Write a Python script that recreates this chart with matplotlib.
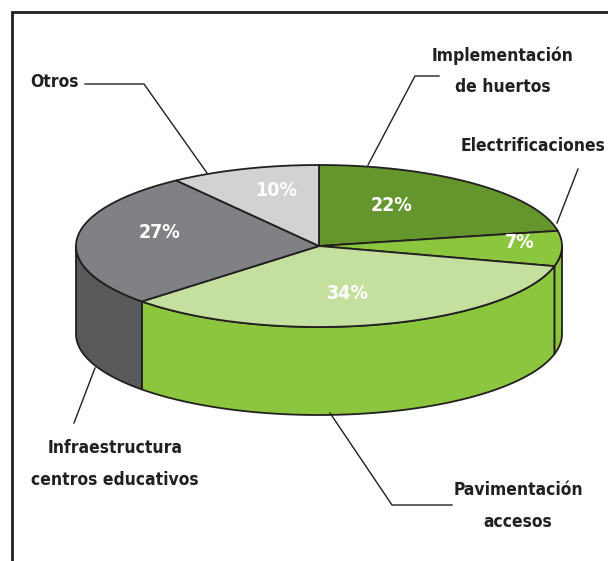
import numpy as np
import matplotlib
matplotlib.use("Agg")
import matplotlib.pyplot as plt
from matplotlib.patches import Polygon
from matplotlib import font_manager

# Project categories, clockwise from 12 o'clock
categories = ["Implementación\nde huertos", "Electrificaciones", "Pavimentación\naccesos",
              "Infraestructura\ncentros educativos", "Otros"]
values = [22, 7, 34, 27, 10]
pct_labels = ["22%", "7%", "34%", "27%", "10%"]

top_colors = ["#65962e", "#8cc63f", "#c5df9f", "#808184", "#d1d2d4"]
side_colors = ["#4f7a22", "#8cc63f", "#8cc63f", "#58595b", "#a7a9ac"]
edge = "#231f20"


def pick_narrow_bold():
    """Return a FontProperties for the narrowest bold sans face installed."""
    best = None
    for f in font_manager.fontManager.ttflist:
        nm = f.name.lower()
        st = str(f.stretch).lower()
        narrow = ("narrow" in nm or "condensed" in nm or "condensed" in st
                  or "narrow" in st)
        if not narrow or "mono" in nm or ("serif" in nm and "sans" not in nm):
            continue
        w = f.weight if isinstance(f.weight, int) else (700 if "bold" in str(f.weight) else 400)
        score = -abs(w - 700)
        if "italic" in str(f.style).lower() or "oblique" in str(f.style).lower():
            score -= 1000
        if best is None or score > best[0]:
            best = (score, f.fname)
    if best is not None:
        return font_manager.FontProperties(fname=best[1])
    return font_manager.FontProperties(family="DejaVu Sans", weight="bold")


base_font = pick_narrow_bold()

W, H = 608, 561
fig = plt.figure(figsize=(W / 100, H / 100), dpi=100)
ax = fig.add_axes([0, 0, 1, 1])
ax.set_xlim(0, W)
ax.set_ylim(H, 0)
ax.axis("off")
renderer = fig.canvas.get_renderer()


def fitted_size(sample, width_px, ref=20.0):
    fp = base_font.copy()
    fp.set_size(ref)
    t = ax.text(0, 0, sample, fontproperties=fp)
    w = t.get_window_extent(renderer).width
    t.remove()
    return ref * width_px / w


label_size = min(fitted_size("Electrificaciones", 145), 20)
pct_size = min(fitted_size("22%", 42), 24)
# distance between the two lines of a label, in pixels
line_gap_px = 34.0
line_spacing = line_gap_px / (label_size * 100.0 / 72.0)

# pie geometry (ellipse of the top face, thickness of the disc)
cx, cy, rx, ry, depth = 319, 246, 243, 81, 88


def rim(theta_deg, dz=0.0):
    t = np.radians(theta_deg)
    return np.column_stack([cx + rx * np.cos(t), cy - ry * np.sin(t) + dz])


total = float(sum(values))
starts, ends = [], []
a = 90.0
for v in values:
    starts.append(a)
    a -= v / total * 360.0
    ends.append(a)

# side walls: only the part of each slice facing the viewer
front_ranges = [(-180.0, 0.0), (180.0, 360.0), (-540.0, -360.0)]
for s, e, col in zip(starts, ends, side_colors):
    for lo_f, hi_f in front_ranges:
        lo, hi = max(e, lo_f), min(s, hi_f)
        if hi - lo <= 0.01:
            continue
        th = np.linspace(lo, hi, 120)
        pts = np.vstack([rim(th), rim(th[::-1], depth)])
        ax.add_patch(Polygon(pts, closed=True, facecolor=col, edgecolor=edge,
                             linewidth=1.3, joinstyle="round", zorder=1))

# top faces
for s, e, col in zip(starts, ends, top_colors):
    th = np.linspace(s, e, 160)
    pts = np.vstack([[cx, cy], rim(th)])
    ax.add_patch(Polygon(pts, closed=True, facecolor=col, edgecolor=edge,
                         linewidth=1.3, joinstyle="round", zorder=2))

# percentage labels on the slices
pct_font = base_font.copy()
pct_font.set_size(pct_size)
pct_pos = [(391, 205), (520, 242), (348, 293), (160, 232), (276, 190)]
for (x, y), t in zip(pct_pos, pct_labels):
    ax.text(x, y, t, color="white", fontproperties=pct_font,
            ha="center", va="center", zorder=5)

# category labels with leader lines
lab_font = base_font.copy()
lab_font.set_size(label_size)
lab_style = dict(color=edge, fontproperties=lab_font, zorder=5,
                 linespacing=line_spacing, multialignment="center")
ax.text(503, 71, categories[0], ha="center", va="center", **lab_style)
ax.text(606, 146, categories[1], ha="right", va="center", **lab_style)
ax.text(518, 506, categories[2], ha="center", va="center", **lab_style)
ax.text(115, 464, categories[3], ha="center", va="center", **lab_style)
ax.text(30, 82, categories[4], ha="left", va="center", **lab_style)

leaders = [
    [(439, 76), (415, 76), (368, 165)],
    [(578, 169), (557, 223)],
    [(452, 505), (392, 505), (330, 413)],
    [(74, 423), (95, 368)],
    [(85, 84), (144, 84), (207, 173)],
]
for pts in leaders:
    xs, ys = zip(*pts)
    ax.plot(xs, ys, color=edge, linewidth=1.0, zorder=4)

# frame along the top and left
ax.plot([11.5, 11.5, W + 5], [H + 5, 12, 12], color=edge, linewidth=2.0,
        solid_joinstyle="miter", zorder=6)

fig.savefig("out.png", dpi=100)
